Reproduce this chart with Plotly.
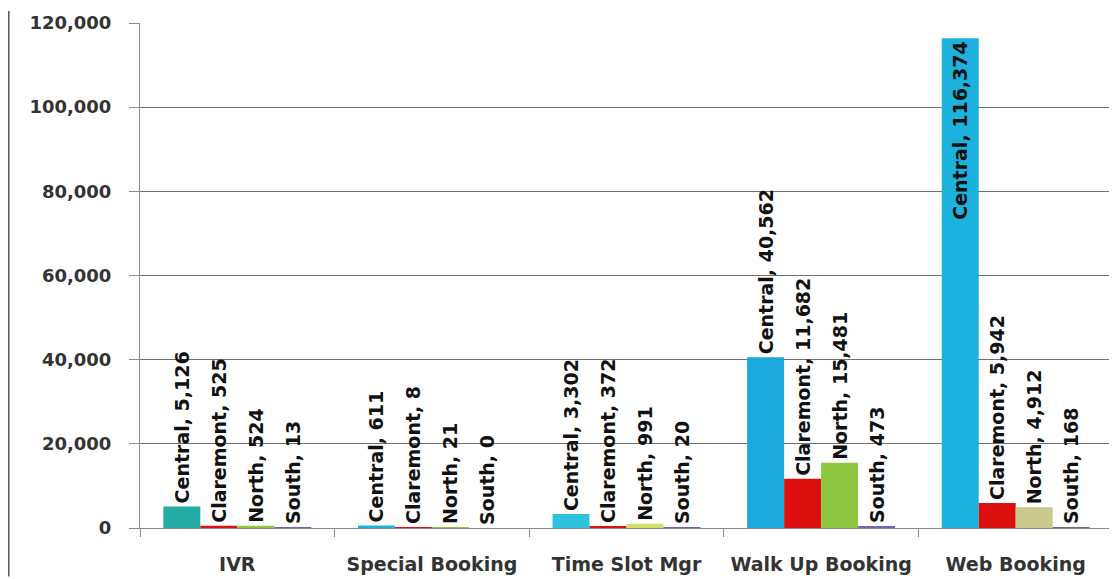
import plotly.graph_objects as go

categories = ["IVR", "Special Booking", "Time Slot Mgr", "Walk Up Booking", "Web Booking"]
series_names = ["Central", "Claremont", "North", "South"]
central = [5126, 611, 3302, 40562, 116374]
claremont = [525, 8, 372, 11682, 5942]
north = [524, 21, 991, 15481, 4912]
south = [13, 0, 20, 473, 168]
y_ticks = [0, 20000, 40000, 60000, 80000, 100000, 120000]

values = [central, claremont, north, south]
colors = [
    ["#22ABA2", "#22B0D8", "#2EC2E0", "#1CA9DD", "#1DB2DE"],
    ["#DD1010", "#DD1010", "#DD1010", "#DD1010", "#DD1010"],
    ["#8FC640", "#8FC640", "#D5DE66", "#8FC640", "#C9C98E"],
    ["#7462B4", "#7462B4", "#7462B4", "#7462B4", "#6E6E70"],
]

# page body has an 8px margin, so the figure is sized to fit inside the window
W, H = 1109, 571
ml, mr, mt, mb = 132, 4, 12, 49

lab_font = dict(family="DejaVu Sans", size=19, color="#111111", weight="bold")

fig = go.Figure()
for name, vals, cols in zip(series_names, values, colors):
    texts = [f"{name}, {v:,}" for v in vals]
    ymax = y_ticks[-1]
    positions = ["inside" if v > 0.8 * ymax else "outside" for v in vals]
    fig.add_trace(go.Bar(
        x=categories, y=vals, name=name,
        marker=dict(color=cols, line=dict(width=0)),
        text=texts, textposition=positions, textangle=-90,
        insidetextanchor="end", constraintext="none", cliponaxis=False,
        textfont=lab_font, insidetextfont=lab_font, outsidetextfont=lab_font,
    ))

pw = W - ml - mr
ph = H - mt - mb
xl = (0.8 - ml) / pw

tick_font = dict(family="DejaVu Sans", size=18, color="#333333", weight="bold")

fig.update_layout(
    width=W, height=H,
    margin=dict(l=ml, r=mr, t=mt, b=mb, pad=0),
    barmode="group", bargap=0.24, bargroupgap=0,
    showlegend=False,
    paper_bgcolor="white", plot_bgcolor="white",
    font=dict(family="DejaVu Sans", size=15, color="#333333"),
    xaxis=dict(
        showline=True, linecolor="#8a8a8a", linewidth=1,
        ticks="outside", tickson="boundaries", ticklen=8, tickcolor="#8a8a8a",
        tickfont=dict(family="DejaVu Sans", size=19, color="#333333", weight="bold"),
        ticklabelstandoff=19,
        showgrid=False,
    ),
    yaxis=dict(
        range=[0, 120000], tickvals=y_ticks,
        ticktext=[f"{t:,}" for t in y_ticks],
        showline=True, linecolor="#8a8a8a", linewidth=1,
        ticks="outside", ticklen=10, tickcolor="#8a8a8a",
        ticklabelstandoff=14,
        showgrid=True, gridcolor="#6f6f6f", gridwidth=1,
        zeroline=False,
        tickfont=tick_font,
    ),
    shapes=[
        dict(type="line", xref="paper", yref="paper",
             x0=xl, x1=xl, y0=-mb / ph, y1=1 + mt / ph,
             line=dict(color="#555555", width=1.5)),
        dict(type="line", xref="paper", yref="paper",
             x0=1, x1=1, y0=0, y1=1,
             line=dict(color="#cfcfcf", width=1)),
    ],
)

fig.write_html("out.html")
